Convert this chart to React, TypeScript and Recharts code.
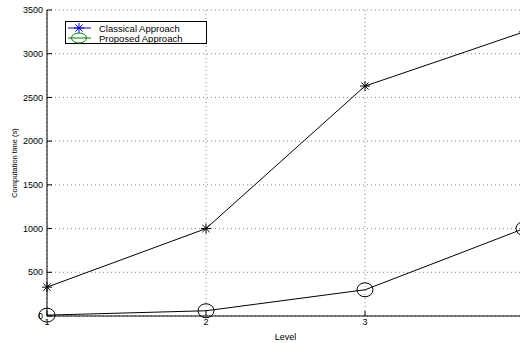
import React from 'react';
import { LineChart, Line, XAxis, YAxis, CartesianGrid, Legend } from 'recharts';

const levels = [1, 2, 3, 4];
const classical = [330, 1000, 2630, 3250];
const proposed = [10, 60, 300, 1000];
const yTicks = [0, 500, 1000, 1500, 2000, 2500, 3000, 3500];
const seriesNames = ['Classical Approach', 'Proposed Approach'];

const data = levels.map((level, i) => ({
  level,
  classical: classical[i],
  proposed: proposed[i],
}));

const font = '"Liberation Sans", Arial, Helvetica, sans-serif';

const Star = ({ cx, cy, color = '#000', r = 5 }: { cx: number; cy: number; color?: string; r?: number }) => {
  const d = r * 0.72;
  return (
    <g stroke={color} strokeWidth={1} fill="none">
      <line x1={cx - r} y1={cy} x2={cx + r} y2={cy} />
      <line x1={cx} y1={cy - r} x2={cx} y2={cy + r} />
      <line x1={cx - d} y1={cy - d} x2={cx + d} y2={cy + d} />
      <line x1={cx - d} y1={cy + d} x2={cx + d} y2={cy - d} />
    </g>
  );
};

const renderStar = (p: any) => (
  <g key={`s-${p.index}`}>
    <Star cx={p.cx} cy={p.cy} />
  </g>
);

const renderCircle = (p: any) => (
  <ellipse key={`c-${p.index}`} cx={p.cx} cy={p.cy} rx={8} ry={7} fill="none" stroke="#000" strokeWidth={1} />
);

const LegendBox = () => (
  <svg width={142} height={23} style={{ display: 'block' }}>
    <rect x={0.5} y={0.5} width={141} height={22} fill="#fff" stroke="#000" strokeWidth={1} />
    <line x1={3} y1={7} x2={26} y2={7} stroke="#0000ff" />
    <Star cx={14} cy={7} color="#0000ff" />
    <text x={34} y={10.5} fontSize={9.5} fontFamily={font} fill="#000">
      {seriesNames[0]}
    </text>
    <line x1={3} y1={17} x2={26} y2={17} stroke="#008000" />
    <ellipse cx={14} cy={17} rx={7.5} ry={5} fill="none" stroke="#008000" />
    <text x={34} y={20.5} fontSize={9.5} fontFamily={font} fill="#000">
      {seriesNames[1]}
    </text>
  </svg>
);

const YLabel = (props: any) => {
  const vb = props.viewBox || { x: 0, y: 0, width: 47, height: 306 };
  const x = vb.x + 17;
  const y = vb.y + vb.height / 2;
  return (
    <text x={x} y={y} transform={`rotate(-90, ${x}, ${y})`} textAnchor="middle" fontSize={7.5} fontFamily={font} fill="#000">
      Computation time (s)
    </text>
  );
};

const tickStyle = { fontSize: 9, fill: '#000', fontFamily: font };
// the last level sits on the cropped right border, its label is not shown
const lastLevel = levels[levels.length - 1];

export default function App() {
  return (
    <div style={{ position: 'absolute', left: 0, top: 0, width: 520, height: 343, overflow: 'hidden', background: '#fff' }}>
      <LineChart width={530} height={343} data={data} margin={{ top: 10, right: 6, left: 0, bottom: 0 }}>
        <CartesianGrid stroke="#888" strokeDasharray="1 3" />
        <XAxis
          dataKey="level"
          type="number"
          domain={[1, 4]}
          ticks={levels}
          height={27}
          stroke="#000"
          tickSize={-5}
          tickMargin={8}
          tick={tickStyle}
          tickFormatter={(v: number) => (v === lastLevel ? '' : String(v))}
          label={{ value: 'Level', position: 'insideBottom', offset: 3, fontSize: 9, fontFamily: font, fill: '#000' }}
        />
        <XAxis
          xAxisId="top"
          orientation="top"
          type="number"
          domain={[1, 4]}
          ticks={levels}
          height={0}
          stroke="#000"
          tickSize={-5}
          tickFormatter={() => ''}
        />
        <YAxis
          type="number"
          domain={[0, 3500]}
          ticks={yTicks}
          width={47}
          stroke="#000"
          tickSize={-5}
          tickMargin={9}
          tick={tickStyle}
          label={YLabel}
        />
        <Legend
          layout="vertical"
          align="center"
          verticalAlign="middle"
          content={() => <LegendBox />}
          wrapperStyle={{ left: 65, top: 21, width: 142, height: 23 }}
        />
        <Line
          type="linear"
          dataKey="classical"
          name={seriesNames[0]}
          stroke="#000"
          strokeWidth={1}
          dot={renderStar}
          isAnimationActive={false}
        />
        <Line
          type="linear"
          dataKey="proposed"
          name={seriesNames[1]}
          stroke="#000"
          strokeWidth={1}
          dot={renderCircle}
          isAnimationActive={false}
        />
      </LineChart>
    </div>
  );
}
